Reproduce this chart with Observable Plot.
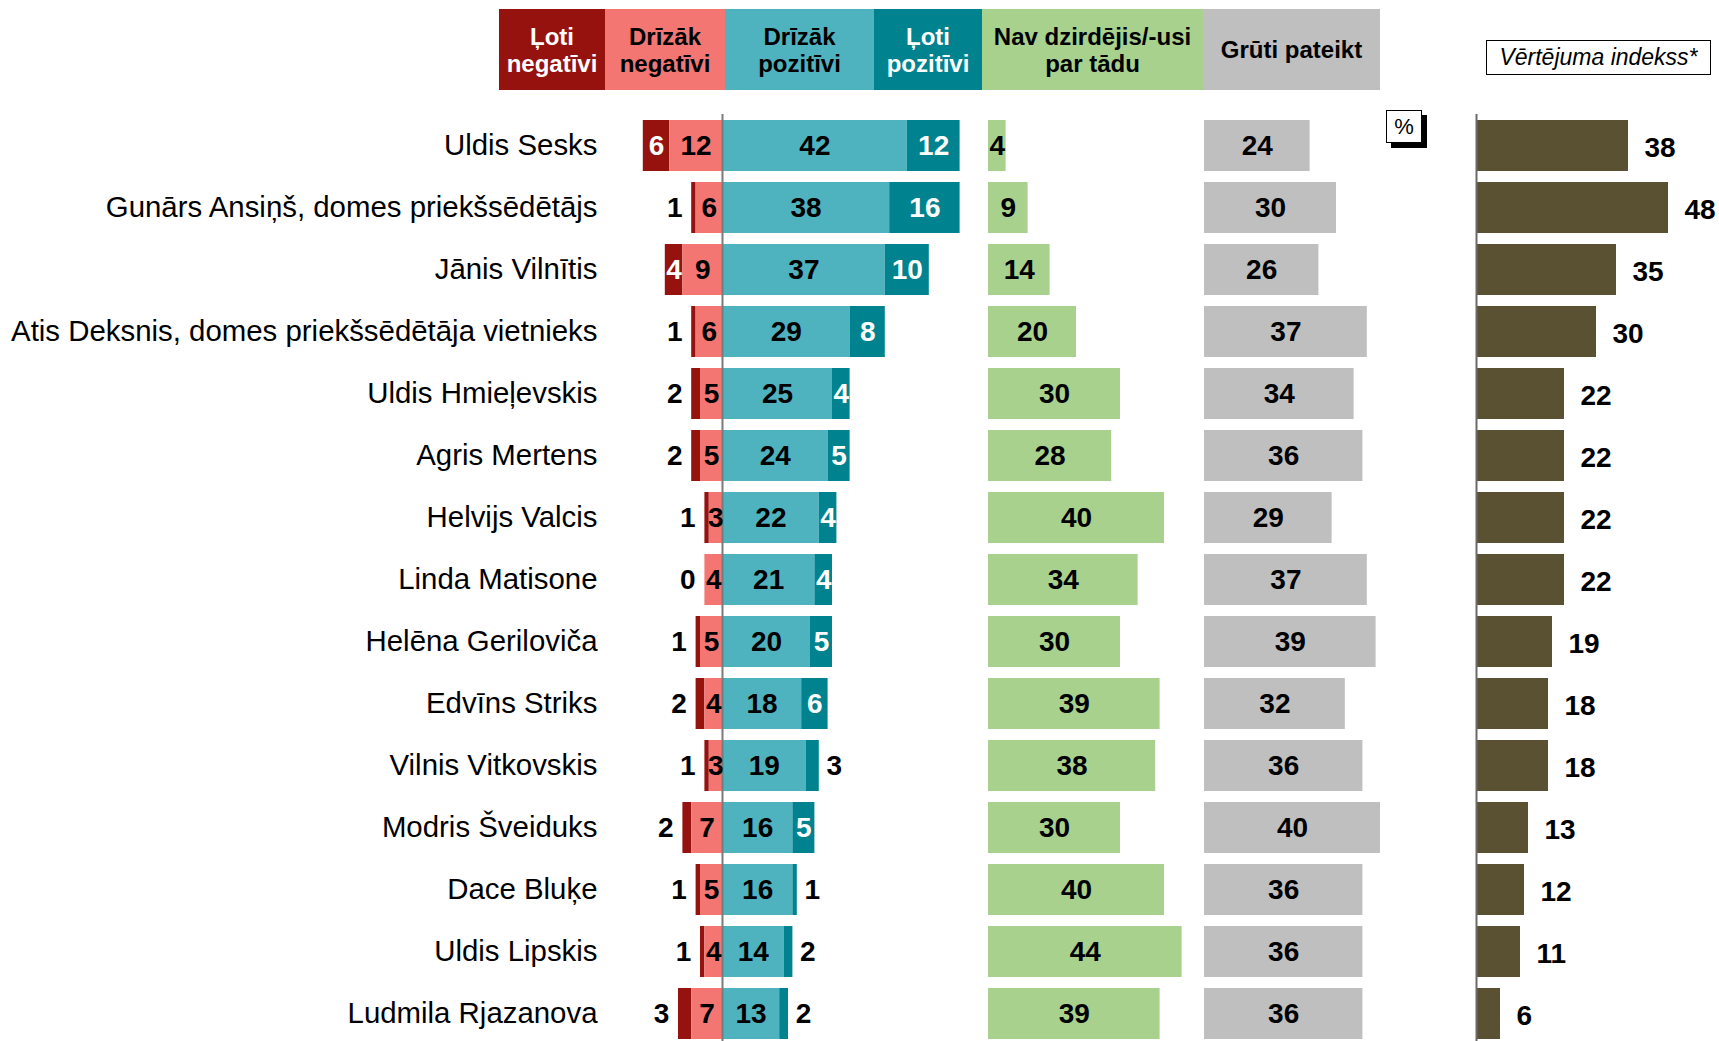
<!DOCTYPE html>
<html><head><meta charset="utf-8">
<script src="https://cdn.jsdelivr.net/npm/d3@7"></script>
<script src="https://cdn.jsdelivr.net/npm/@observablehq/plot@0.6"></script>
<style>
body{margin:0;overflow:hidden;background:#fff;font-family:"Liberation Sans",Arial,sans-serif}
#wrap{position:relative;width:1719px;height:1041px;overflow:hidden}
#wrap > svg, #wrap > figure{position:absolute;top:0;margin:0}
.leg{position:absolute;display:flex;align-items:center;justify-content:center;text-align:center;font-weight:bold;font-size:24px;line-height:27px;box-sizing:border-box}
.pct{position:absolute;background:#fff;border:1px solid #000;box-shadow:5px 5px 0 #000;display:flex;align-items:center;justify-content:center;font-size:22px;box-sizing:border-box}
.idx{position:absolute;background:#fff;border:1px solid #000;display:flex;align-items:center;justify-content:center;font-style:italic;font-size:23px;box-sizing:border-box}
</style></head><body><div id="wrap"></div>
<script>
// ---- data ----
const names = ["Uldis Sesks","Gunārs Ansiņš, domes priekšsēdētājs","Jānis Vilnītis","Atis Deksnis, domes priekšsēdētāja vietnieks","Uldis Hmieļevskis","Agris Mertens","Helvijs Valcis","Linda Matisone","Helēna Geriloviča","Edvīns Striks","Vilnis Vitkovskis","Modris Šveiduks","Dace Bluķe","Uldis Lipskis","Ludmila Rjazanova"];
const veryNeg   = [6,1,4,1,2,2,1,0,1,2,1,2,1,1,3];
const ratherNeg = [12,6,9,6,5,5,3,4,5,4,3,7,5,4,7];
const ratherPos = [42,38,37,29,25,24,22,21,20,18,19,16,16,14,13];
const veryPos   = [12,16,10,8,4,5,4,4,5,6,3,5,1,2,2];
const notHeard  = [4,9,14,20,30,28,40,34,30,39,38,30,40,44,39];
const hardToSay = [24,30,26,37,34,36,29,37,39,32,36,40,36,36,36];
const indexVal  = [38,48,35,30,22,22,22,22,19,18,18,13,12,11,6];
const categoryKeys = ["veryNeg","ratherNeg","ratherPos","veryPos","notHeard","hardToSay"];
const categoryLabels = ["Ļoti\nnegatīvi","Drīzāk\nnegatīvi","Drīzāk\npozitīvi","Ļoti\npozitīvi","Nav dzirdējis/-usi\npar tādu","Grūti pateikt"];
const indexTitle = "Vērtējuma indekss*";
const unitLabel = "%";

// ---- styles / layout ----
const colors = ["#95120F","#F37672","#4FB3BF","#00838F","#A9D18E","#BFBFBF"];
const legendText = ["#fff","#000","#000","#fff","#000","#000"];
const legendLeft = [499,605,725,874,982,1203,1380];
const indexColor = "#5A5132";
const FONT = '"Liberation Sans", Arial, sans-serif';
const H = 1041;
const yScale = {domain: names, range: [114, 1045.5], paddingInner: 0.179, paddingOuter: 0.0895, axis: null};
const wrap = document.getElementById("wrap");

// legend
categoryLabels.forEach((t, i) => {
  const d = document.createElement("div");
  d.className = "leg";
  d.style.left = legendLeft[i] + "px";
  d.style.width = (legendLeft[i+1] - legendLeft[i]) + "px";
  d.style.top = "9px"; d.style.height = "81px";
  d.style.background = colors[i];
  d.style.color = legendText[i];
  d.innerHTML = t.split("\n").join("<br>");
  wrap.appendChild(d);
});

const rows = names.map((name, i) => ({name, veryNeg: veryNeg[i], ratherNeg: ratherNeg[i], ratherPos: ratherPos[i], veryPos: veryPos[i], notHeard: notHeard[i], hardToSay: hardToSay[i], index: indexVal[i]}));

const segs = rows.flatMap(r => [
  {name: r.name, key: "veryNeg", v: r.veryNeg, x1: -(r.ratherNeg + r.veryNeg), x2: -r.ratherNeg},
  {name: r.name, key: "ratherNeg", v: r.ratherNeg, x1: -r.ratherNeg, x2: 0},
  {name: r.name, key: "ratherPos", v: r.ratherPos, x1: 0, x2: r.ratherPos},
  {name: r.name, key: "veryPos", v: r.veryPos, x1: r.ratherPos, x2: r.ratherPos + r.veryPos}
]);
const isInside = s => (s.key === "ratherNeg" || s.key === "ratherPos") || s.v >= 4;
const inside = segs.filter(isInside);
const outLeft = segs.filter(s => s.key === "veryNeg" && !isInside(s));
const outRight = segs.filter(s => s.key === "veryPos" && !isInside(s));
const colorScale = {domain: categoryKeys, range: colors};
const txt = {fontSize: 28, fontWeight: "bold"};

function place(svg, left) { svg.style.left = left + "px"; wrap.appendChild(svg); }

// diverging panel with names
const p1 = Plot.plot({
  width: 990, height: H, marginTop: 114, marginBottom: 0, marginLeft: 612, marginRight: 4,
  x: {domain: [-25, 60], range: [612, 986], axis: null},
  y: yScale, color: colorScale,
  style: {fontFamily: FONT, background: "transparent", overflow: "visible"},
  marks: [
    Plot.barX(segs, {y: "name", x1: "x1", x2: "x2", fill: "key", inset: 0}),
    Plot.ruleX([0], {stroke: "#7a7a7a", strokeWidth: 2}),
    Plot.text(rows, {y: "name", text: "name", frameAnchor: "left", textAnchor: "end", dx: -15, fontSize: 29.4, fill: "#000"}),
    Plot.text(inside, {y: "name", x: d => (d.x1 + d.x2) / 2, text: "v", fill: d => (d.key === "veryNeg" || d.key === "veryPos") ? "#fff" : "#000", ...txt}),
    Plot.text(outLeft, {y: "name", x: "x1", text: "v", dx: -17, fill: "#000", ...txt}),
    Plot.text(outRight, {y: "name", x: "x2", text: "v", dx: 15, fill: "#000", ...txt})
  ]
});
place(p1, 0);

// single-bar panels
function simplePanel(field, color, left) {
  const p = Plot.plot({
    width: 232, height: H, marginTop: 114, marginBottom: 0, marginLeft: 0, marginRight: 0,
    x: {domain: [0, 50], range: [0, 220], axis: null},
    y: yScale,
    style: {fontFamily: FONT, background: "transparent", overflow: "visible"},
    marks: [
      Plot.barX(rows, {y: "name", x1: 0, x2: field, fill: color}),
      Plot.text(rows, {y: "name", x: d => d[field] / 2, text: field, fill: "#000", ...txt})
    ]
  });
  place(p, left);
}
simplePanel("notHeard", colors[4], 988);
simplePanel("hardToSay", colors[5], 1204);

// index panel
const p4 = Plot.plot({
  width: 245, height: H, marginTop: 114, marginBottom: 0, marginLeft: 2, marginRight: 0,
  x: {domain: [0, 60], range: [2, 242], axis: null},
  y: yScale,
  style: {fontFamily: FONT, background: "transparent", overflow: "visible"},
  marks: [
    Plot.barX(rows, {y: "name", x1: 0, x2: "index", fill: indexColor}),
    Plot.ruleX([0], {stroke: "#6a6a6a", strokeWidth: 2}),
    Plot.text(rows, {y: "name", x: "index", text: "index", textAnchor: "start", dx: 16, dy: 2, fill: "#000", ...txt})
  ]
});
place(p4, 1474);

// % box and index title
const pct = document.createElement("div");
pct.className = "pct";
Object.assign(pct.style, {left: "1386px", top: "110px", width: "36px", height: "33px"});
pct.textContent = unitLabel;
wrap.appendChild(pct);

const it = document.createElement("div");
it.className = "idx";
Object.assign(it.style, {left: "1486px", top: "40px", width: "225px", height: "35px"});
it.textContent = indexTitle;
wrap.appendChild(it);
</script></body></html>
